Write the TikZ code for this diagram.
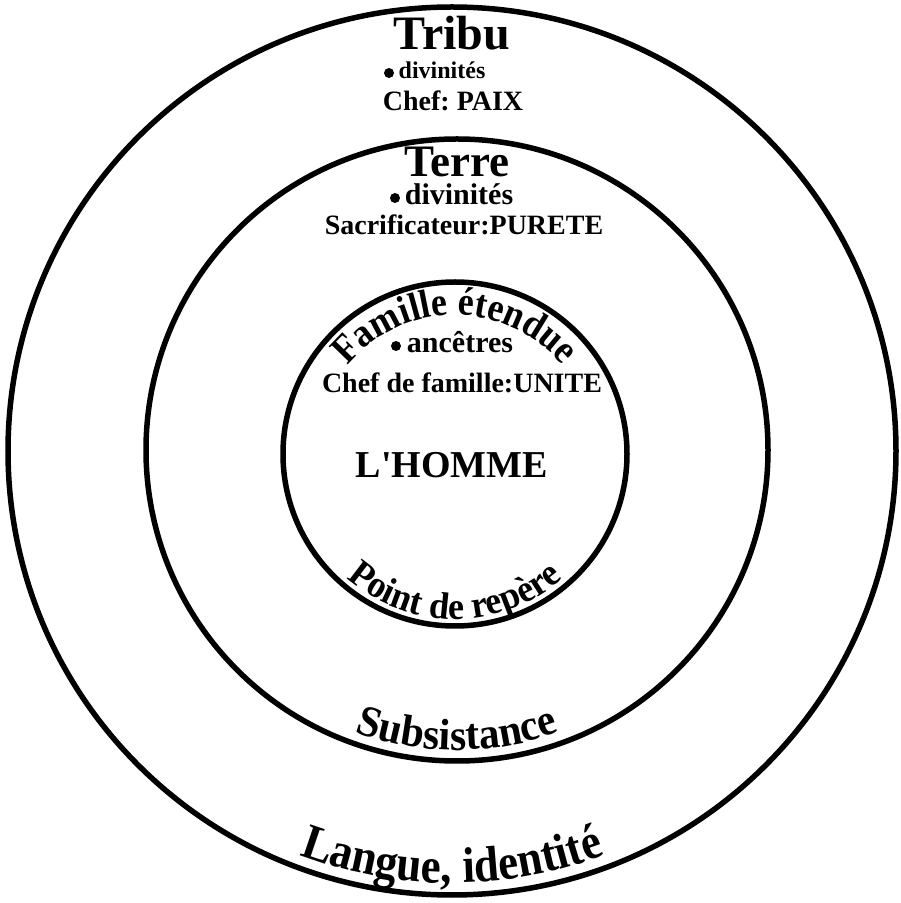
\documentclass[tikz,border=0pt]{standalone}
\usepackage{fontspec}
\setmainfont{Liberation Serif}
\newfontfamily\condA[FakeStretch=0.9]{Liberation Serif}
\newfontfamily\condB[FakeStretch=0.95]{Liberation Serif}
\usetikzlibrary{decorations.text}
\newcommand{\fs}[1]{\bfseries\fontsize{#1}{#1}\selectfont}
\frenchspacing
\begin{document}
\begin{tikzpicture}[x=1pt,y=1pt,
  ring/.style={line width=5.5pt},
  lbl/.style={anchor=base, inner sep=0pt},
  dot/.style={fill=black}]
\useasboundingbox (0,0) rectangle (901,903);
\coordinate (cO) at (452,452);
\coordinate (cM) at (457,453);
\coordinate (cI) at (455,449);
% circles
\draw[ring] (cO) circle (444);
\draw[ring] (cM) circle (311);
\draw[ring] (cI) circle (172);
% outer ring texts
\node[lbl] (tribu) at (452,853) {\fs{48}Tribu};
\node[lbl] (tribudiv) at (442,824) {\fs{24}divinités};
\fill[dot] (389,830) circle (5);
\node[lbl] (paix) at (453,792) {\fs{28}Chef: PAIX};
\path[decorate, decoration={text along path, text align=center,
  text={|\condA\fs{50}|Langue, identité}}]
  (cO) ++(180:432) arc[start angle=180, end angle=360, radius=432];
% middle ring texts
\node[lbl] (terre) at (457,726) {\fs{45}Terre};
\node[lbl] (terrediv) at (459,698) {\fs{30}divinités};
\fill[dot] (395,705) circle (5);
\node[lbl] (purete) at (464,668) {\fs{28}Sacrificateur:PURETE};
\path[decorate, decoration={text along path, text align=center,
  text={|\condB\fs{44}|Subsistance}}]
  (cM) ++(180:300) arc[start angle=180, end angle=360, radius=300];
% inner circle texts
\path[decorate, decoration={text along path, text align=center,
  text={|\condA\fs{40}|Famille étendue}}]
  (cI) ++(180:139) arc[start angle=180, end angle=0, radius=139];
\node[lbl] (anc) at (460,550) {\fs{30}ancêtres};
\fill[dot] (396,557) circle (5);
\node[lbl] (unite) at (462,510) {\fs{28}Chef de famille:UNITE};
\node[lbl] (homme) at (452,425) {\fs{38}L\textquotesingle HOMME};
\path[decorate, decoration={text along path, text align=center,
  text={|\condB\fs{38}|Point de repère}}]
  (cI) ++(180:165) arc[start angle=180, end angle=360, radius=165];
\end{tikzpicture}
\end{document}
